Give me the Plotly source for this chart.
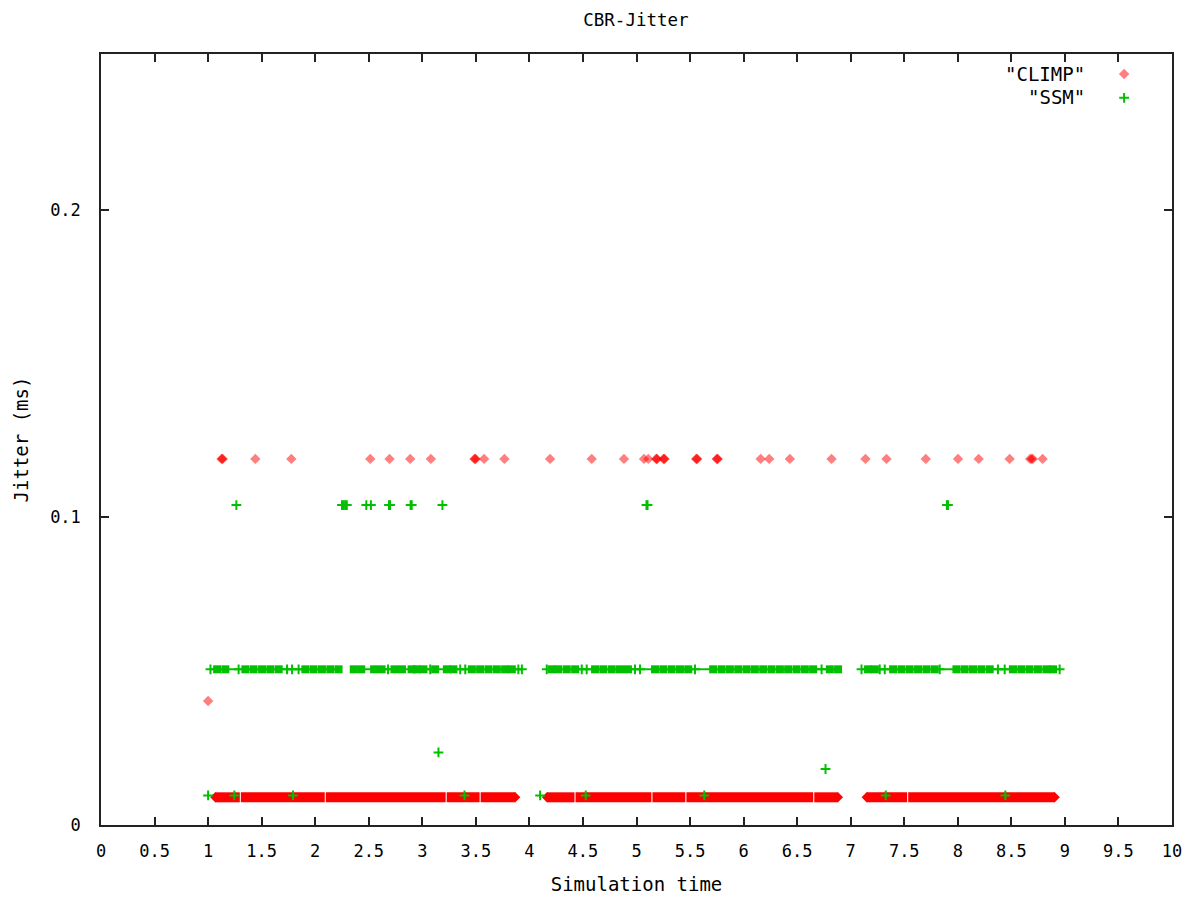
import plotly.graph_objects as go

# ---------------- data ----------------
# CLIMP: dense low band drawn as runs of packets (start / end times)
climp_band_y = 0.009
climp_band_start = [1.068, 1.306, 2.099, 3.228, 3.545,
                    4.165, 4.431, 5.149, 5.466, 6.660,
                    7.150, 7.537]
climp_band_end = [1.296, 2.089, 3.218, 3.535, 3.867,
                  4.421, 5.139, 5.456, 6.650, 6.880,
                  7.527, 8.904]
climp_high_y = 0.119
climp_high_x = [1.125, 1.131, 1.137, 1.441, 1.777, 2.514, 2.694, 2.887, 3.080,
                3.487, 3.493, 3.499, 3.577, 3.767, 4.193, 4.582, 4.883, 5.070,
                5.110, 5.183, 5.188, 5.193, 5.252, 5.257, 5.262, 5.557, 5.562,
                5.567, 5.749, 5.754, 5.759, 6.159, 6.239, 6.432, 6.821, 7.138,
                7.334, 7.701, 8.002, 8.195, 8.484, 8.675, 8.689, 8.700, 8.792]
climp_other_x = [1.0]
climp_other_y = [0.0403]

# SSM
ssm_low_y = 0.0096
ssm_low_x = [1.0, 1.245, 1.793, 3.394, 4.10, 4.526, 5.633, 7.327, 8.444]
ssm_mid_y = 0.0506
ssm_mid_run_start = [1.012, 2.343, 4.162, 7.101]
ssm_mid_run_end = [2.218, 3.930, 6.882, 8.951]
ssm_mid_block_x = [1.084, 1.161, 1.348, 1.425, 1.504, 1.581, 1.659, 1.908, 1.985,
                   2.063, 2.141, 2.218, 2.360, 2.430, 2.550, 2.620, 2.740, 2.810,
                   2.900, 2.950, 3.011, 3.120, 3.229, 3.291, 3.463, 3.540, 3.618,
                   3.696, 3.773, 3.836, 4.209, 4.270, 4.349, 4.427, 4.613, 4.690,
                   4.769, 4.846, 4.920, 5.173, 5.250, 5.328, 5.406, 5.483, 5.716,
                   5.795, 5.872, 5.950, 6.028, 6.105, 6.183, 6.261, 6.339, 6.416,
                   6.494, 6.572, 6.649, 6.805, 6.882, 7.162, 7.225, 7.396, 7.474,
                   7.551, 7.629, 7.707, 7.784, 7.987, 8.064, 8.142, 8.220, 8.298,
                   8.515, 8.593, 8.670, 8.748, 8.827, 8.889]
ssm_mid_single_x = [1.022, 1.285, 1.737, 1.784, 1.845, 2.680, 3.074, 3.354, 3.401,
                    3.897, 3.930, 4.162, 4.489, 4.535, 4.986, 5.033, 5.546, 6.728,
                    7.101, 7.271, 7.318, 7.831, 8.375, 8.438, 8.951]
ssm_high_y = 0.104
ssm_high_x = [1.264, 2.250, 2.265, 2.280, 2.295, 2.477, 2.520, 2.689, 2.699,
              2.891, 2.901, 3.188, 5.093, 5.103, 7.898, 7.908]
ssm_other_x = [3.151, 6.765]
ssm_other_y = [0.0236, 0.0182]

x_ticks = [0, 0.5, 1, 1.5, 2, 2.5, 3, 3.5, 4, 4.5, 5, 5.5, 6, 6.5, 7, 7.5, 8, 8.5, 9, 9.5, 10]
y_ticks = [0, 0.1, 0.2]

# ---------------- styles ----------------
RED = "#ff0000"
RED_T = "rgba(255,0,0,0.5)"
GREEN = "#00c000"
FONT = "DejaVu Sans Mono"
TXT = dict(family=FONT, size=19, color="#000000")


def runs(starts, ends, yv):
    xs, ys = [], []
    for s, e in zip(starts, ends):
        xs += [s, e, None]
        ys += [yv, yv, None]
    return xs, ys


def run_ends(starts, ends, yv, gap=0.05):
    xs = []
    for i, (s, e) in enumerate(zip(starts, ends)):
        if i == 0 or s - ends[i - 1] > gap:
            xs.append(s)
        if i == len(starts) - 1 or starts[i + 1] - e > gap:
            xs.append(e)
    return xs, [yv] * len(xs)


fig = go.Figure()

# CLIMP band
bx, by = runs(climp_band_start, climp_band_end, climp_band_y)
fig.add_trace(go.Scatter(x=bx, y=by, mode="lines", line=dict(color=RED, width=10),
                         showlegend=False, hoverinfo="skip"))
ex, ey = run_ends(climp_band_start, climp_band_end, climp_band_y)
fig.add_trace(go.Scatter(x=ex, y=ey, mode="markers",
                         marker=dict(symbol="diamond", size=8, color=RED, line=dict(width=0)),
                         showlegend=False))
fig.add_trace(go.Scatter(x=climp_high_x, y=[climp_high_y] * len(climp_high_x), mode="markers",
                         marker=dict(symbol="diamond", size=8, color=RED_T, line=dict(width=0)),
                         showlegend=False))
fig.add_trace(go.Scatter(x=climp_other_x, y=climp_other_y, mode="markers",
                         marker=dict(symbol="diamond", size=8, color=RED_T, line=dict(width=0)),
                         showlegend=False))

# SSM mid band
mx, my = runs(ssm_mid_run_start, ssm_mid_run_end, ssm_mid_y)
fig.add_trace(go.Scatter(x=mx, y=my, mode="lines", line=dict(color=GREEN, width=2),
                         showlegend=False, hoverinfo="skip"))
fig.add_trace(go.Scatter(x=ssm_mid_block_x, y=[ssm_mid_y] * len(ssm_mid_block_x), mode="markers",
                         marker=dict(symbol="square", size=8, color=GREEN, line=dict(width=0)),
                         showlegend=False))
plus = dict(symbol="cross-thin", size=7, color=GREEN, line=dict(width=2, color=GREEN))
fig.add_trace(go.Scatter(x=ssm_mid_single_x, y=[ssm_mid_y] * len(ssm_mid_single_x), mode="markers",
                         marker=plus, showlegend=False))
fig.add_trace(go.Scatter(x=ssm_high_x, y=[ssm_high_y] * len(ssm_high_x), mode="markers",
                         marker=plus, showlegend=False))
fig.add_trace(go.Scatter(x=ssm_low_x, y=[ssm_low_y] * len(ssm_low_x), mode="markers",
                         marker=plus, showlegend=False))
fig.add_trace(go.Scatter(x=ssm_other_x, y=ssm_other_y, mode="markers",
                         marker=plus, showlegend=False))

# legend keys (symbols only, labels as right-aligned text like gnuplot)
fig.add_trace(go.Scatter(x=[None], y=[None], mode="markers", name=" ",
                         marker=dict(symbol="diamond", size=8, color=RED_T, line=dict(width=0))))
fig.add_trace(go.Scatter(x=[None], y=[None], mode="markers", name=" ",
                         marker=plus))

axis_common = dict(showline=True, linecolor="#222222", linewidth=1.5, mirror="allticks",
                   ticks="inside", ticklen=8, tickwidth=1.5, tickcolor="#222222",
                   showgrid=False, zeroline=False, automargin=False,
                   tickfont=dict(family=FONT, size=17, color="#000000"))

fig.update_layout(
    width=1192, height=900,
    paper_bgcolor="white", plot_bgcolor="white",
    margin=dict(l=93, r=28, t=46, b=83),
    title=dict(text="CBR-Jitter", x=0.5268, xanchor="center", y=0.9867, yanchor="middle",
               font=dict(family=FONT, size=17.5, color="#000000")),
    xaxis=dict(range=[0, 10], tickvals=x_ticks, ticktext=[f"{v:g}" for v in x_ticks],
               title=dict(text="Simulation time", font=TXT, standoff=18),
               ticklabelstandoff=10, **axis_common),
    yaxis=dict(range=[0, 0.2506], tickvals=y_ticks, ticktext=[f"{v:g}" for v in y_ticks],
               title=dict(text="Jitter (ms)", font=TXT, standoff=16),
               ticklabelstandoff=15, **axis_common),
    showlegend=True,
    legend=dict(x=0.9366, xanchor="left", y=0.996, yanchor="top",
                bgcolor="rgba(0,0,0,0)", font=dict(family=FONT, size=16),
                itemwidth=30, tracegroupgap=0),
    annotations=[
        dict(text='"CLIMP"', x=0.9211, y=0.974, xref="paper", yref="paper",
             xanchor="right", yanchor="middle", showarrow=False, font=TXT),
        dict(text='"SSM"', x=0.9211, y=0.944, xref="paper", yref="paper",
             xanchor="right", yanchor="middle", showarrow=False, font=TXT),
    ],
)

fig.write_html("out.html")
